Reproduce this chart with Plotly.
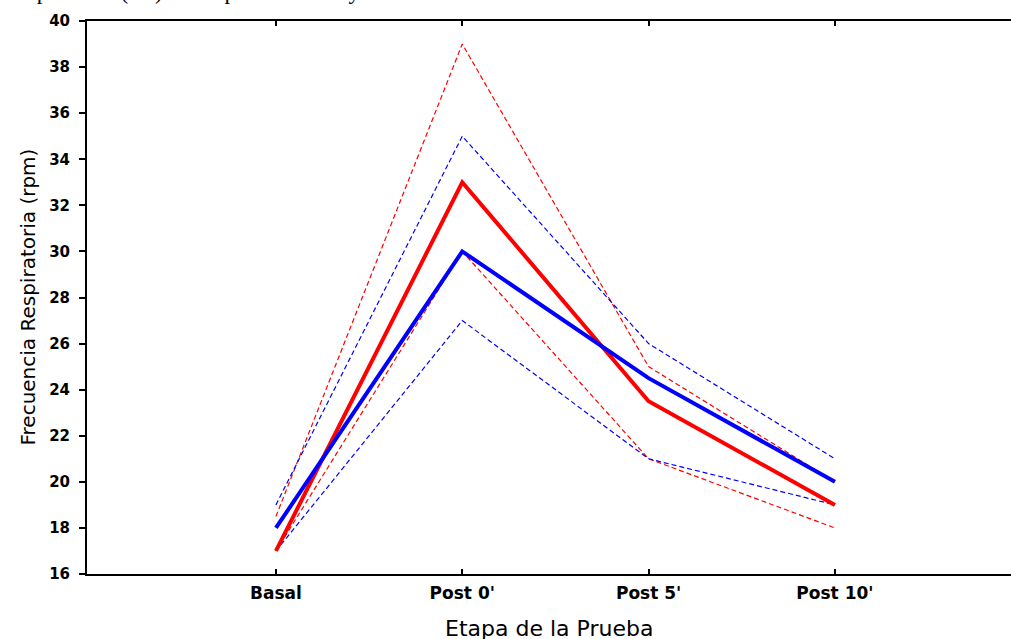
import plotly.graph_objects as go

categories = ["Basal", "Post 0'", "Post 5'", "Post 10'"]
red_mean = [17, 33, 23.5, 19]
red_upper = [18.5, 39, 25, 20]
red_lower = [17, 30, 21, 18]
blue_mean = [18, 30, 24.5, 20]
blue_upper = [19, 35, 26, 21]
blue_lower = [17, 27, 21, 19]
y_ticks = list(range(16, 41, 2))

RED = "#FF0000"
BLUE = "#0000FF"
x_idx = list(range(len(categories)))

fig = go.Figure()
for vals, col in [(red_upper, RED), (red_lower, RED), (blue_upper, BLUE), (blue_lower, BLUE)]:
    fig.add_trace(go.Scatter(x=x_idx, y=vals, mode="lines",
                             line=dict(color=col, width=1.2, dash="5px,3px"),
                             showlegend=False, hoverinfo="skip"))
fig.add_trace(go.Scatter(x=x_idx, y=red_mean, mode="lines",
                         line=dict(color=RED, width=4), showlegend=False))
fig.add_trace(go.Scatter(x=x_idx, y=blue_mean, mode="lines",
                         line=dict(color=BLUE, width=4), showlegend=False))

FONT = "DejaVu Sans, Liberation Sans, Arial"

fig.update_layout(
    width=1011, height=639,
    margin=dict(l=87, r=0, t=21, b=65),
    paper_bgcolor="white", plot_bgcolor="white",
    xaxis=dict(
        range=[-1.014, 3.945], automargin=False,
        tickmode="array", tickvals=x_idx, ticktext=categories,
        ticks="inside", ticklen=5, tickwidth=1.5, tickcolor="black",
        showline=True, linecolor="black", linewidth=2, mirror="ticks",
        showgrid=False, zeroline=False,
        tickfont=dict(family=FONT, size=17, color="black", weight="bold"),
        ticklabelstandoff=3,
    ),
    yaxis=dict(
        range=[16, 40], automargin=False,
        tickmode="array", tickvals=y_ticks,
        ticks="outside", ticklen=6, tickwidth=1.5, tickcolor="black",
        showline=True, linecolor="black", linewidth=2, mirror=False,
        showgrid=False, zeroline=False,
        tickfont=dict(family=FONT, size=15, color="black", weight="bold"),
        ticklabelstandoff=6,
    ),
    annotations=[
        dict(text="Etapa de la Prueba", xref="paper", yref="paper",
             x=0.5, y=0, xanchor="center", yanchor="middle", yshift=-54,
             showarrow=False, font=dict(family=FONT, size=22, color="black")),
        dict(text="Frecuencia Respiratoria (rpm)", xref="paper", yref="paper",
             x=0, y=0.5, xanchor="center", yanchor="middle", xshift=-60,
             textangle=-90, showarrow=False,
             font=dict(family=FONT, size=20, color="black")),
        dict(text="respiratoria (a/a) correspondientes S y C.",
             xref="paper", yref="paper", x=-0.086, y=1.0, xanchor="left", yanchor="bottom",
             yshift=15, showarrow=False,
             font=dict(family="Liberation Serif, Times New Roman", size=23, color="black")),
    ],
)

fig.write_html(
    "out.html",
    config={"displayModeBar": False},
    post_script="document.body.style.margin='0px';document.body.style.overflow='hidden';",
)
